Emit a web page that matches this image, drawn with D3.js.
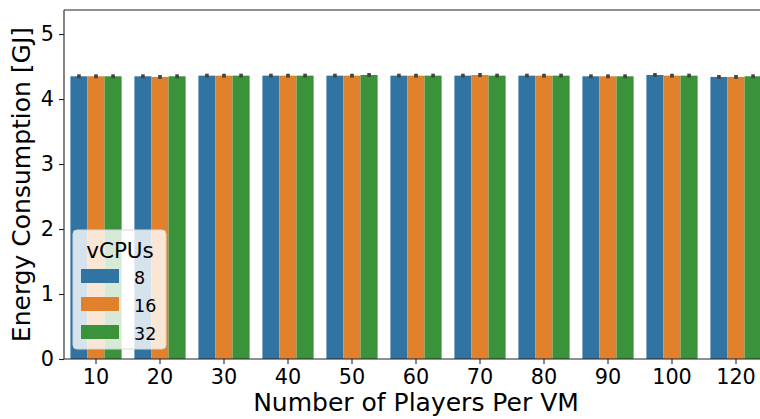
<!DOCTYPE html>
<html>
<head>
<meta charset="utf-8">
<script src="https://cdn.jsdelivr.net/npm/d3@7"></script>
<style>
body { margin: 0; background: #fff; }
svg text { font-family: "DejaVu Sans", sans-serif; fill: #000; }
</style>
</head>
<body>
<div class="d3chart"></div>
<script>
// data
var players = ["10", "20", "30", "40", "50", "60", "70", "80", "90", "100", "120"];
var vcpus = ["8", "16", "32"];
var energy8  = [4.35, 4.35, 4.36, 4.36, 4.36, 4.36, 4.36, 4.36, 4.35, 4.37, 4.34];
var energy16 = [4.35, 4.34, 4.36, 4.36, 4.36, 4.36, 4.37, 4.36, 4.35, 4.36, 4.34];
var energy32 = [4.35, 4.35, 4.36, 4.36, 4.37, 4.36, 4.36, 4.36, 4.35, 4.36, 4.35];
var err8  = [0.03, 0.03, 0.03, 0.03, 0.03, 0.03, 0.03, 0.03, 0.03, 0.03, 0.03];
var err16 = [0.03, 0.03, 0.03, 0.03, 0.03, 0.03, 0.03, 0.03, 0.03, 0.03, 0.03];
var err32 = [0.03, 0.03, 0.03, 0.03, 0.03, 0.03, 0.03, 0.03, 0.03, 0.03, 0.03];
var yTicks = [0, 1, 2, 3, 4, 5];
var colors = ["#3274a1", "#e1812c", "#3a923a"];

function drawChart(){
var width = 760,
    height = 419;
var mLeft = 64, mRight = 768, mTop = 10, mBottom = 359;

var series = [energy8, energy16, energy32];
var errs = [err8, err16, err32];
var rows = [];
players.forEach(function(p, i){
    vcpus.forEach(function(v, j){
        rows.push({players: p, vcpu: v, value: series[j][i], err: errs[j][i], k: j});
    });
});

var svg = d3.select(".d3chart").append("svg")
    .attr("width", width)
    .attr("height", height);

// seaborn: one unit per category, the bars fill 0.8 of it
var x = d3.scaleBand().domain(players).range([mLeft, mRight]);
var xIn = d3.scaleBand().domain(vcpus).range([0, x.bandwidth() * 0.8]);
var barX = function(d){ return x(d.players) + x.bandwidth() * 0.1 + xIn(d.vcpu); };

var y = d3.scaleLinear()
    .domain([0, 5.37])
    .range([mBottom, mTop]);

// bars
svg.append("g")
    .selectAll("rect")
    .data(rows)
    .enter().append("rect")
        .attr("x", barX)
        .attr("width", xIn.bandwidth())
        .attr("y", function(d){ return y(d.value); })
        .attr("height", function(d){ return y(0) - y(d.value); })
        .attr("fill", function(d){ return colors[d.k]; });

// error bars
svg.append("g")
    .selectAll("line")
    .data(rows)
    .enter().append("line")
        .attr("x1", function(d){ return barX(d) + xIn.bandwidth() / 2; })
        .attr("x2", function(d){ return barX(d) + xIn.bandwidth() / 2; })
        .attr("y1", function(d){ return y(d.value - d.err); })
        .attr("y2", function(d){ return y(d.value + d.err); })
        .attr("stroke", "#424242")
        .attr("stroke-width", 3.6);

// axes
var xAxis = svg.append("g")
    .attr("transform", "translate(0," + mBottom + ")")
    .call(d3.axisBottom(x).tickSize(5).tickPadding(5).tickSizeOuter(0));
var yAxis = svg.append("g")
    .attr("transform", "translate(" + mLeft + ",0)")
    .call(d3.axisLeft(y).tickValues(yTicks).tickFormat(d3.format("d")).tickSize(5).tickPadding(5).tickSizeOuter(0));
xAxis.select(".domain").remove();
yAxis.select(".domain").remove();
svg.selectAll(".tick text").style("font-size", "20.8px").style("font-family", "DejaVu Sans");
svg.selectAll(".tick line").attr("stroke", "#222").attr("stroke-width", 1.1);

// spines
svg.append("line").attr("x1", mLeft).attr("x2", mLeft).attr("y1", mTop).attr("y2", mBottom)
    .attr("stroke", "#222").attr("stroke-width", 1.1);
svg.append("line").attr("x1", mLeft).attr("x2", mRight).attr("y1", mBottom).attr("y2", mBottom)
    .attr("stroke", "#222").attr("stroke-width", 1.1);
svg.append("line").attr("x1", mLeft).attr("x2", mRight).attr("y1", mTop).attr("y2", mTop)
    .attr("stroke", "#222").attr("stroke-width", 1.1);

// labels
svg.append("text")
    .attr("x", (mLeft + mRight) / 2)
    .attr("y", 411)
    .attr("text-anchor", "middle")
    .attr("font-size", 25)
    .text("Number of Players Per VM");
svg.append("text")
    .attr("transform", "translate(30," + ((mTop + mBottom) / 2) + ") rotate(-90)")
    .attr("text-anchor", "middle")
    .attr("font-size", 25)
    .text("Energy Consumption [GJ]");

// legend
var lg = svg.append("g");
lg.append("rect")
    .attr("x", 73).attr("y", 230)
    .attr("width", 93).attr("height", 119)
    .attr("rx", 4)
    .attr("fill", "#fff").attr("fill-opacity", 0.8)
    .attr("stroke", "#d6d6d6");
lg.append("text")
    .attr("x", 120).attr("y", 258)
    .attr("text-anchor", "middle")
    .attr("font-size", 21.5)
    .text("vCPUs");
lg.selectAll(".entry")
    .data(vcpus)
    .enter().append("rect")
        .attr("x", 81)
        .attr("y", function(d, i){ return 269 + i * 28; })
        .attr("width", 38).attr("height", 14)
        .attr("fill", function(d, i){ return colors[i]; });
lg.selectAll(".lbl")
    .data(vcpus)
    .enter().append("text")
        .attr("x", 134)
        .attr("y", function(d, i){ return 283.5 + i * 28; })
        .attr("font-size", 17.5)
        .text(function(d){ return d; });
}
drawChart();
</script>
</body>
</html>
